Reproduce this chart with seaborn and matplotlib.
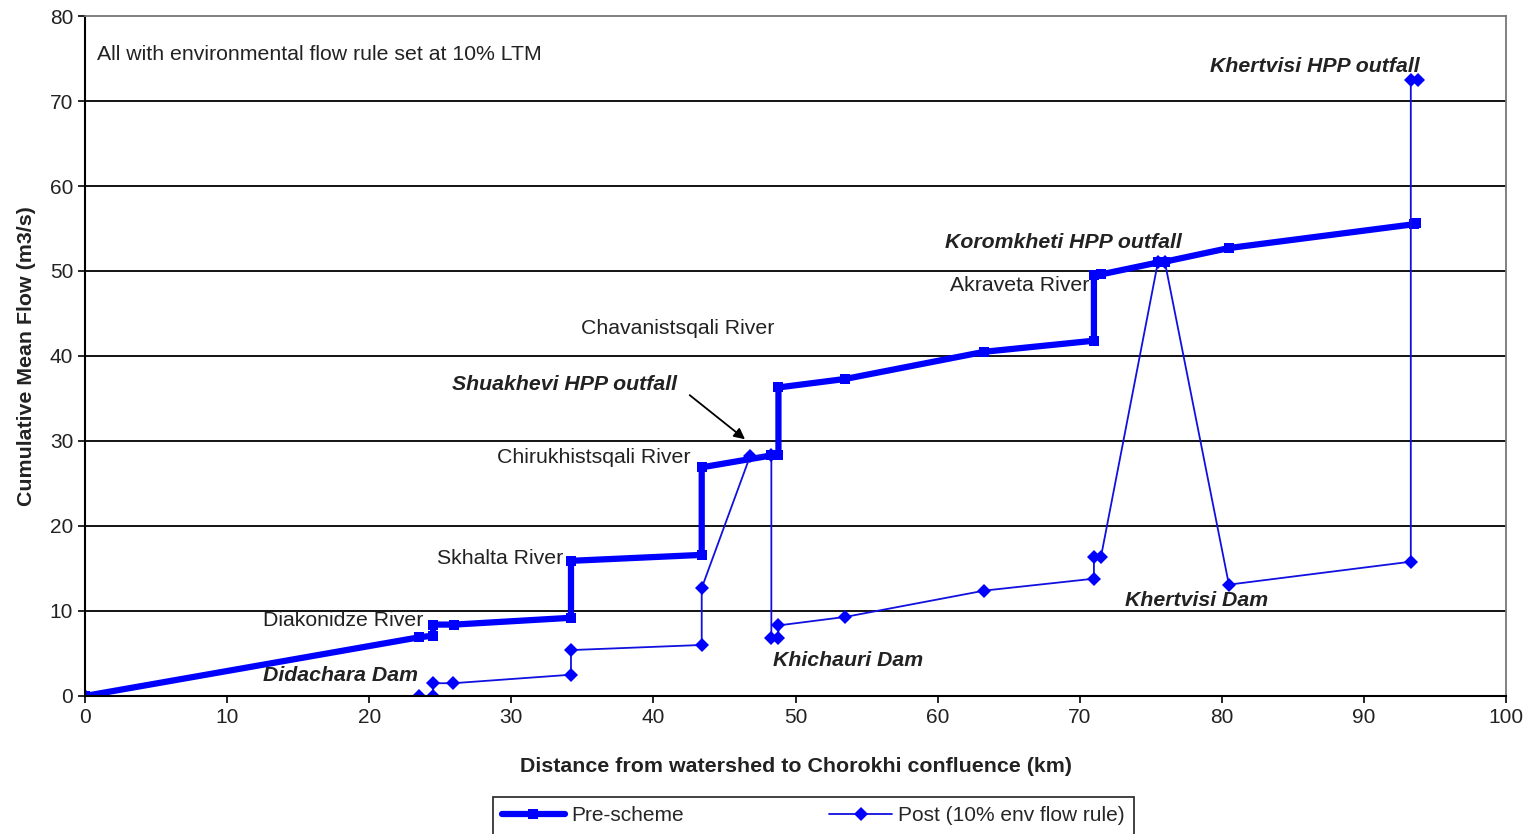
import matplotlib
matplotlib.use("Agg")
import matplotlib.pyplot as plt
import pandas as pd
import seaborn as sns

sns.set_theme(style="white")
plt.rcParams['font.family'] = ['Liberation Sans', 'DejaVu Sans']

# Pre-scheme cumulative flow (km, m3/s)
pre_km = [0, 23.5, 24.5, 24.5, 26.0, 34.2, 34.2, 43.4, 43.4, 48.3, 48.8, 48.8,
          53.5, 63.3, 71.0, 71.0, 71.5, 75.5, 76.0, 80.5, 93.5, 93.7]
pre_flow = [0, 6.9, 7.1, 8.4, 8.4, 9.2, 15.9, 16.6, 26.9, 28.3, 28.4, 36.3,
            37.3, 40.5, 41.8, 49.5, 49.6, 51.0, 51.1, 52.7, 55.5, 55.6]

# Post scheme with 10% environmental flow rule
post_km = [0, 23.5, 24.5, 24.5, 25.9, 34.2, 34.2, 43.4, 43.4, 46.8, 48.3, 48.3,
           48.8, 48.8, 53.5, 63.3, 71.0, 71.0, 71.5, 75.5, 76.0, 80.5, 93.3, 93.3, 93.8]
post_flow = [0, 0, 0, 1.5, 1.5, 2.5, 5.4, 6.0, 12.7, 28.2, 28.3, 6.8,
             6.8, 8.3, 9.3, 12.4, 13.8, 16.4, 16.4, 51.0, 51.0, 13.1, 15.8, 72.5, 72.5]

# annotations: (text, x, y, bold-italic)
labels = [
    ("All with environmental flow rule set at 10% LTM", 0.85, 75.5, False),
    ("Khertvisi HPP outfall", 79.2, 74.1, True),
    ("Koromkheti HPP outfall", 60.5, 53.3, True),
    ("Akraveta River", 60.9, 48.3, False),
    ("Chavanistsqali River", 34.9, 43.2, False),
    ("Shuakhevi HPP outfall", 25.8, 36.6, True),
    ("Chirukhistsqali River", 29.0, 28.0, False),
    ("Skhalta River", 24.8, 16.2, False),
    ("Diakonidze River", 12.5, 8.9, False),
    ("Didachara Dam", 12.5, 2.4, True),
    ("Khichauri Dam", 48.4, 4.2, True),
    ("Khertvisi Dam", 73.2, 11.2, True),
]

pre = pd.DataFrame({"km": pre_km, "flow": pre_flow})
post = pd.DataFrame({"km": post_km, "flow": post_flow})

fig = plt.figure(figsize=(15.26, 8.34), dpi=100)
ax = fig.add_axes([0.0557, 0.1655, 0.9312, 0.8153])

for y in range(10, 80, 10):
    ax.axhline(y, color="black", lw=1.3, zorder=0)

sns.lineplot(data=pre, x="km", y="flow", ax=ax, sort=False, estimator=None,
             color="#0000ff", lw=4.5, marker="s", markersize=7,
             markeredgewidth=0, label="Pre-scheme")
sns.lineplot(data=post, x="km", y="flow", ax=ax, sort=False, estimator=None,
             color="#1010e0", lw=1.3, marker="D", markersize=7,
             markerfacecolor="#0000ff", markeredgewidth=0,
             label="Post (10% env flow rule)")

for txt, x, y, bi in labels:
    if bi:
        ax.text(x, y, txt, fontsize=15.3, fontweight="bold", fontstyle="italic",
                color="#222222", va="center")
    else:
        ax.text(x, y, txt, fontsize=15.3, color="#222222", va="center")

ax.annotate("", xy=(46.6, 30.0), xytext=(42.4, 35.6),
            arrowprops=dict(arrowstyle="-|>", color="black", lw=1.3,
                            mutation_scale=16))

ax.set_xlim(0, 100)
ax.set_ylim(0, 80)
ax.set_xticks(range(0, 101, 10))
ax.set_yticks(range(0, 81, 10))
ax.tick_params(axis="both", direction="out", length=5, width=1.2,
               labelsize=15, colors="black", bottom=True, left=True)
ax.tick_params(axis="both", labelcolor="#222222")
ax.set_xlabel("Distance from watershed to Chorokhi confluence (km)",
              fontsize=15.4, fontweight="bold", color="#222222", labelpad=22)
ax.set_ylabel("Cumulative Mean Flow (m3/s)", fontsize=15.4, fontweight="bold",
              color="#222222", labelpad=10)

for side in ["left", "bottom"]:
    ax.spines[side].set_color("black")
    ax.spines[side].set_linewidth(1.5)
for side in ["top", "right"]:
    ax.spines[side].set_color("#777777")
    ax.spines[side].set_linewidth(1.3)

ax.get_legend().remove()
h, l = ax.get_legend_handles_labels()
leg = fig.legend(h, l, loc="center", bbox_to_anchor=(0.533, 0.022), ncol=2,
                 fontsize=15, frameon=True, fancybox=False, edgecolor="black",
                 handlelength=3, handletextpad=0.3, columnspacing=7,
                 borderpad=0.45, borderaxespad=0)
leg.get_frame().set_linewidth(1.3)

fig.savefig("out.png", dpi=100)
